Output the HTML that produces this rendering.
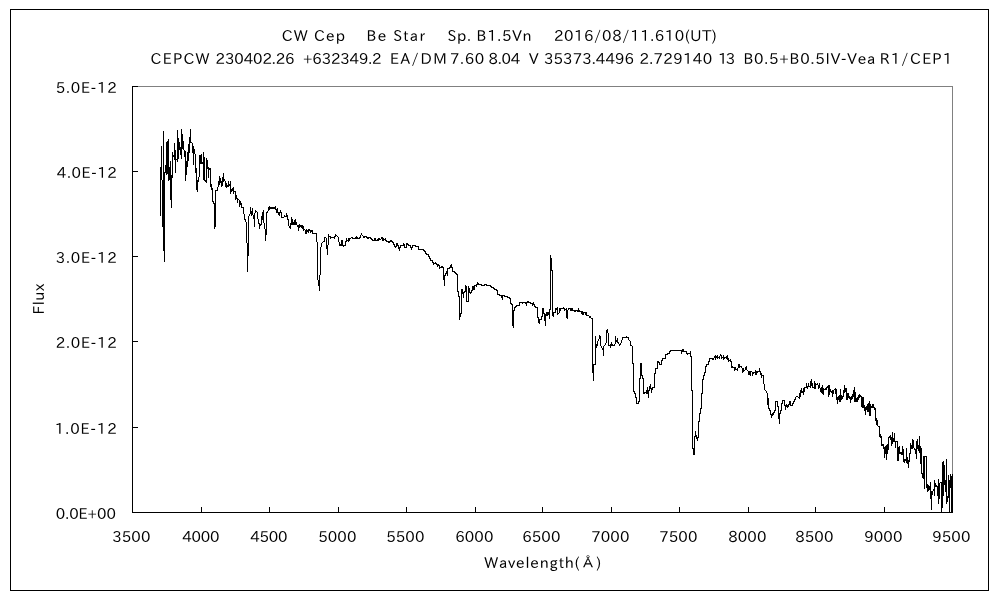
<!DOCTYPE html>
<html><head><meta charset="utf-8"><title>CW Cep spectrum</title>
<style>
html,body{margin:0;padding:0;background:#fff;}
body{width:1000px;height:600px;position:relative;overflow:hidden;}
.t{position:absolute;font-family:"IPAPGothic","IPAGothic","Liberation Sans",sans-serif;font-size:15px;line-height:16px;letter-spacing:0.62px;white-space:pre;color:#000;}
.yl{right:884px;text-align:right;}
.xl{top:529px;width:60px;text-align:center;}
svg{position:absolute;left:0;top:0;}
</style></head><body>
<svg width="1000" height="600" viewBox="0 0 1000 600">
<rect x="10.5" y="9.5" width="978" height="581" fill="none" stroke="#000" stroke-width="1" shape-rendering="crispEdges"/>
<path d="M132.5 86.5H952.5V512.5" fill="none" stroke="#808080" stroke-width="1" shape-rendering="crispEdges"/>
<path d="M132.5 86V512.5H952.5" fill="none" stroke="#000" stroke-width="1" shape-rendering="crispEdges"/>
<path d="M133 171.5H138M133 256.5H138M133 341.5H138M133 427.5H138M133 86.5H138M201.5 507V512M269.5 507V512M338.5 507V512M406.5 507V512M475.5 507V512M542.5 507V512M611.5 507V512M679.5 507V512M748.5 507V512M815.5 507V512M884.5 507V512" fill="none" stroke="#000" stroke-width="1" shape-rendering="crispEdges"/>
<path d="M160 167h1v49h-1zM161 146h1v34h-1zM162 180h1v47h-1zM163 131h1v120h-1zM164 172h1v90h-1zM165 165h1v8h-1zM166 142h1v33h-1zM167 141h1v33h-1zM168 139h1v42h-1zM169 167h1v13h-1zM170 161h1v39h-1zM171 175h1v33h-1zM172 152h1v26h-1zM173 155h1v2h-1zM174 143h1v17h-1zM175 150h1v23h-1zM176 159h1v1h-1zM177 130h1v32h-1zM178 138h1v21h-1zM179 142h1v8h-1zM180 147h1v8h-1zM181 129h1v30h-1zM182 134h1v15h-1zM183 141h1v9h-1zM184 150h1v7h-1zM185 151h1v30h-1zM186 161h1v14h-1zM187 152h1v15h-1zM188 144h1v17h-1zM189 137h1v16h-1zM190 129h1v14h-1zM191 142h1v1h-1zM192 143h1v10h-1zM193 146h1v19h-1zM194 149h1v5h-1zM195 154h1v19h-1zM196 168h1v22h-1zM197 180h1v12h-1zM198 177h1v5h-1zM199 155h1v22h-1zM200 155h1v9h-1zM201 154h1v10h-1zM202 162h1v2h-1zM203 152h1v28h-1zM204 157h1v24h-1zM205 180h1v2h-1zM206 158h1v25h-1zM207 160h1v9h-1zM208 167h1v11h-1zM209 168h1v2h-1zM210 168h1v19h-1zM211 184h1v6h-1zM212 188h1v14h-1zM213 201h1v3h-1zM214 203h1v26h-1zM215 190h1v37h-1zM216 190h1v1h-1zM217 187h1v4h-1zM218 181h1v6h-1zM219 176h1v9h-1zM220 178h1v5h-1zM221 181h1v6h-1zM222 177h1v9h-1zM223 173h1v9h-1zM224 179h1v2h-1zM225 181h1v6h-1zM226 183h1v5h-1zM227 185h1v2h-1zM228 181h1v6h-1zM229 184h1v2h-1zM230 181h1v13h-1zM231 189h1v3h-1zM232 188h1v3h-1zM233 187h1v7h-1zM234 191h1v1h-1zM235 191h1v9h-1zM236 195h1v4h-1zM237 198h1v5h-1zM238 199h1v1h-1zM239 200h1v7h-1zM240 201h1v4h-1zM241 203h1v5h-1zM242 207h1v1h-1zM243 207h1v7h-1zM244 214h1v6h-1zM245 219h1v3h-1zM246 222h1v21h-1zM247 243h1v29h-1zM248 216h1v40h-1zM249 214h1v2h-1zM250 207h1v7h-1zM251 211h1v5h-1zM252 208h1v7h-1zM253 215h1v4h-1zM254 213h1v14h-1zM255 210h1v3h-1zM256 211h1v1h-1zM257 212h1v7h-1zM258 219h1v5h-1zM259 223h1v6h-1zM260 224h1v2h-1zM261 216h1v9h-1zM262 212h1v8h-1zM263 210h1v13h-1zM264 223h1v6h-1zM265 229h1v12h-1zM266 212h1v23h-1zM267 211h1v2h-1zM268 207h1v4h-1zM269 206h1v4h-1zM270 207h1v2h-1zM271 207h1v2h-1zM272 207h1v2h-1zM273 207h1v2h-1zM274 207h1v2h-1zM275 206h1v4h-1zM276 209h1v4h-1zM277 208h1v5h-1zM278 212h1v3h-1zM279 212h1v4h-1zM280 210h1v3h-1zM281 212h1v6h-1zM282 217h1v1h-1zM283 217h1v1h-1zM284 215h1v2h-1zM285 216h1v1h-1zM286 213h1v4h-1zM287 215h1v5h-1zM288 219h1v7h-1zM289 226h1v2h-1zM290 223h1v6h-1zM291 217h1v8h-1zM292 219h1v6h-1zM293 222h1v3h-1zM294 220h1v5h-1zM295 219h1v6h-1zM296 222h1v3h-1zM297 225h1v2h-1zM298 225h1v6h-1zM299 224h1v4h-1zM300 225h1v2h-1zM301 225h1v3h-1zM302 225h1v4h-1zM303 226h1v5h-1zM304 229h1v1h-1zM305 230h1v4h-1zM306 229h1v5h-1zM307 230h1v2h-1zM308 229h1v4h-1zM309 229h1v2h-1zM310 230h1v3h-1zM311 230h1v2h-1zM312 230h1v4h-1zM313 233h1v1h-1zM314 233h1v1h-1zM315 233h1v1h-1zM316 233h1v9h-1zM317 242h1v38h-1zM318 280h1v6h-1zM319 275h1v16h-1zM320 247h1v28h-1zM321 243h1v4h-1zM322 242h1v1h-1zM323 241h1v1h-1zM324 237h1v5h-1zM325 237h1v1h-1zM326 238h1v11h-1zM327 245h1v10h-1zM328 234h1v11h-1zM329 236h1v1h-1zM330 236h1v3h-1zM331 237h1v1h-1zM332 237h1v1h-1zM333 237h1v1h-1zM334 236h1v3h-1zM335 234h1v3h-1zM336 235h1v1h-1zM337 236h1v1h-1zM338 237h1v5h-1zM339 242h1v4h-1zM340 244h1v2h-1zM341 240h1v6h-1zM342 240h1v6h-1zM343 245h1v2h-1zM344 245h1v1h-1zM345 241h1v5h-1zM346 238h1v4h-1zM347 240h1v1h-1zM348 238h1v4h-1zM349 238h1v3h-1zM350 238h1v1h-1zM351 237h1v1h-1zM352 237h1v2h-1zM353 238h1v1h-1zM354 238h1v1h-1zM355 237h1v2h-1zM356 236h1v3h-1zM357 237h1v2h-1zM358 238h1v1h-1zM359 237h1v2h-1zM360 235h1v3h-1zM361 233h1v2h-1zM362 235h1v1h-1zM363 236h1v2h-1zM364 236h1v2h-1zM365 236h1v1h-1zM366 236h1v2h-1zM367 237h1v2h-1zM368 237h1v2h-1zM369 237h1v1h-1zM370 237h1v2h-1zM371 238h1v2h-1zM372 239h1v2h-1zM373 240h1v1h-1zM374 238h1v3h-1zM375 238h1v3h-1zM376 240h1v1h-1zM377 239h1v2h-1zM378 238h1v3h-1zM379 238h1v2h-1zM380 239h1v1h-1zM381 237h1v2h-1zM382 237h1v4h-1zM383 238h1v3h-1zM384 239h1v1h-1zM385 238h1v3h-1zM386 240h1v2h-1zM387 241h1v1h-1zM388 241h1v2h-1zM389 241h1v2h-1zM390 240h1v2h-1zM391 240h1v2h-1zM392 241h1v2h-1zM393 242h1v3h-1zM394 244h1v3h-1zM395 246h1v2h-1zM396 243h1v4h-1zM397 243h1v3h-1zM398 245h1v4h-1zM399 247h1v4h-1zM400 245h1v3h-1zM401 245h1v1h-1zM402 245h1v1h-1zM403 243h1v3h-1zM404 244h1v4h-1zM405 247h1v1h-1zM406 243h1v5h-1zM407 243h1v2h-1zM408 244h1v2h-1zM409 245h1v1h-1zM410 245h1v3h-1zM411 247h1v3h-1zM412 245h1v3h-1zM413 245h1v1h-1zM414 245h1v1h-1zM415 245h1v2h-1zM416 246h1v1h-1zM417 246h1v1h-1zM418 246h1v4h-1zM419 249h1v1h-1zM420 249h1v1h-1zM421 249h1v1h-1zM422 249h1v1h-1zM423 249h1v2h-1zM424 250h1v2h-1zM425 251h1v3h-1zM426 253h1v2h-1zM427 254h1v1h-1zM428 254h1v3h-1zM429 256h1v3h-1zM430 258h1v3h-1zM431 260h1v1h-1zM432 260h1v3h-1zM433 262h1v3h-1zM434 263h1v1h-1zM435 262h1v2h-1zM436 263h1v2h-1zM437 264h1v3h-1zM438 264h1v2h-1zM439 265h1v4h-1zM440 267h1v1h-1zM441 266h1v2h-1zM442 266h1v2h-1zM443 267h1v13h-1zM444 275h1v11h-1zM445 273h1v3h-1zM446 271h1v3h-1zM447 268h1v8h-1zM448 268h1v1h-1zM449 267h1v2h-1zM450 265h1v3h-1zM451 264h1v4h-1zM452 267h1v5h-1zM453 271h1v1h-1zM454 271h1v2h-1zM455 272h1v2h-1zM456 273h1v2h-1zM457 274h1v18h-1zM458 291h1v6h-1zM459 296h1v24h-1zM460 313h1v4h-1zM461 289h1v25h-1zM462 289h1v5h-1zM463 292h1v6h-1zM464 291h1v2h-1zM465 285h1v7h-1zM466 286h1v16h-1zM467 301h1v1h-1zM468 286h1v16h-1zM469 288h1v5h-1zM470 292h1v2h-1zM471 290h1v3h-1zM472 286h1v5h-1zM473 286h1v4h-1zM474 285h1v5h-1zM475 285h1v1h-1zM476 284h1v3h-1zM477 282h1v3h-1zM478 283h1v2h-1zM479 284h1v1h-1zM480 284h1v1h-1zM481 284h1v2h-1zM482 285h1v1h-1zM483 285h1v1h-1zM484 284h1v2h-1zM485 284h1v1h-1zM486 284h1v2h-1zM487 285h1v1h-1zM488 285h1v1h-1zM489 285h1v1h-1zM490 285h1v2h-1zM491 286h1v2h-1zM492 287h1v1h-1zM493 287h1v2h-1zM494 288h1v2h-1zM495 289h1v1h-1zM496 289h1v2h-1zM497 290h1v5h-1zM498 294h1v1h-1zM499 294h1v2h-1zM500 295h1v1h-1zM501 295h1v3h-1zM502 295h1v5h-1zM503 295h1v1h-1zM504 295h1v2h-1zM505 296h1v1h-1zM506 296h1v1h-1zM507 296h1v2h-1zM508 297h1v1h-1zM509 297h1v2h-1zM510 298h1v6h-1zM511 303h1v2h-1zM512 304h1v22h-1zM513 310h1v18h-1zM514 307h1v4h-1zM515 306h1v2h-1zM516 305h1v2h-1zM517 305h1v1h-1zM518 305h1v1h-1zM519 302h1v4h-1zM520 302h1v1h-1zM521 302h1v1h-1zM522 302h1v2h-1zM523 302h1v1h-1zM524 302h1v1h-1zM525 302h1v2h-1zM526 302h1v4h-1zM527 301h1v2h-1zM528 301h1v2h-1zM529 302h1v1h-1zM530 302h1v2h-1zM531 303h1v1h-1zM532 303h1v3h-1zM533 302h1v3h-1zM534 304h1v3h-1zM535 306h1v2h-1zM536 307h1v1h-1zM537 307h1v11h-1zM538 317h1v6h-1zM539 319h1v5h-1zM540 319h1v1h-1zM541 316h1v4h-1zM542 308h1v9h-1zM543 308h1v6h-1zM544 313h1v8h-1zM545 314h1v12h-1zM546 312h1v4h-1zM547 312h1v4h-1zM548 312h1v3h-1zM549 309h1v10h-1zM550 255h1v55h-1zM551 258h1v13h-1zM552 270h1v46h-1zM553 312h1v5h-1zM554 312h1v1h-1zM555 308h1v5h-1zM556 308h1v2h-1zM557 307h1v8h-1zM558 313h1v1h-1zM559 308h1v5h-1zM560 308h1v3h-1zM561 308h1v1h-1zM562 308h1v1h-1zM563 307h1v2h-1zM564 308h1v3h-1zM565 309h1v1h-1zM566 308h1v10h-1zM567 310h1v9h-1zM568 308h1v2h-1zM569 308h1v1h-1zM570 308h1v3h-1zM571 308h1v3h-1zM572 308h1v3h-1zM573 310h1v1h-1zM574 310h1v2h-1zM575 310h1v2h-1zM576 310h1v1h-1zM577 310h1v2h-1zM578 308h1v4h-1zM579 310h1v2h-1zM580 311h1v1h-1zM581 311h1v3h-1zM582 311h1v4h-1zM583 312h1v3h-1zM584 312h1v1h-1zM585 312h1v3h-1zM586 312h1v4h-1zM587 315h1v1h-1zM588 315h1v1h-1zM589 316h1v2h-1zM590 316h1v2h-1zM591 318h1v1h-1zM592 318h1v55h-1zM593 364h1v17h-1zM594 364h1v1h-1zM595 336h1v29h-1zM596 344h1v4h-1zM597 341h1v5h-1zM598 339h1v2h-1zM599 335h1v4h-1zM600 336h1v10h-1zM601 346h1v2h-1zM602 348h1v2h-1zM603 346h1v10h-1zM604 345h1v1h-1zM605 343h1v2h-1zM606 330h1v13h-1zM607 329h1v4h-1zM608 333h1v13h-1zM609 345h1v1h-1zM610 344h1v4h-1zM611 342h1v4h-1zM612 344h1v2h-1zM613 345h1v1h-1zM614 344h1v2h-1zM615 336h1v8h-1zM616 340h1v2h-1zM617 338h1v5h-1zM618 342h1v2h-1zM619 344h1v2h-1zM620 343h1v2h-1zM621 340h1v3h-1zM622 337h1v3h-1zM623 337h1v1h-1zM624 337h1v1h-1zM625 337h1v1h-1zM626 336h1v2h-1zM627 337h1v1h-1zM628 337h1v3h-1zM629 340h1v1h-1zM630 341h1v5h-1zM631 345h1v1h-1zM632 346h1v18h-1zM633 363h1v29h-1zM634 391h1v3h-1zM635 393h1v5h-1zM636 397h1v7h-1zM637 403h1v1h-1zM638 401h1v3h-1zM639 378h1v24h-1zM640 363h1v16h-1zM641 363h1v13h-1zM642 375h1v4h-1zM643 378h1v16h-1zM644 392h1v2h-1zM645 392h1v1h-1zM646 390h1v4h-1zM647 387h1v7h-1zM648 390h1v8h-1zM649 386h1v5h-1zM650 384h1v5h-1zM651 388h1v5h-1zM652 387h1v3h-1zM653 387h1v1h-1zM654 373h1v15h-1zM655 368h1v6h-1zM656 368h1v1h-1zM657 361h1v8h-1zM658 361h1v2h-1zM659 362h1v3h-1zM660 364h1v1h-1zM661 360h1v5h-1zM662 358h1v3h-1zM663 358h1v1h-1zM664 358h1v1h-1zM665 354h1v5h-1zM666 354h1v1h-1zM667 353h1v2h-1zM668 353h1v1h-1zM669 351h1v3h-1zM670 350h1v2h-1zM671 350h1v1h-1zM672 350h1v1h-1zM673 350h1v1h-1zM674 350h1v1h-1zM675 350h1v1h-1zM676 350h1v1h-1zM677 350h1v1h-1zM678 350h1v1h-1zM679 350h1v1h-1zM680 350h1v1h-1zM681 350h1v4h-1zM682 349h1v3h-1zM683 349h1v3h-1zM684 351h1v1h-1zM685 351h1v1h-1zM686 351h1v3h-1zM687 353h1v2h-1zM688 353h1v1h-1zM689 353h1v1h-1zM690 351h1v6h-1zM691 356h1v35h-1zM692 390h1v59h-1zM693 448h1v7h-1zM694 436h1v19h-1zM695 431h1v6h-1zM696 435h1v4h-1zM697 437h1v4h-1zM698 421h1v17h-1zM699 413h1v9h-1zM700 408h1v6h-1zM701 393h1v16h-1zM702 379h1v15h-1zM703 375h1v5h-1zM704 372h1v4h-1zM705 366h1v7h-1zM706 364h1v3h-1zM707 364h1v1h-1zM708 361h1v4h-1zM709 358h1v4h-1zM710 358h1v1h-1zM711 358h1v1h-1zM712 358h1v2h-1zM713 358h1v2h-1zM714 356h1v2h-1zM715 355h1v5h-1zM716 356h1v2h-1zM717 355h1v4h-1zM718 357h1v1h-1zM719 356h1v3h-1zM720 354h1v2h-1zM721 355h1v4h-1zM722 357h1v1h-1zM723 355h1v5h-1zM724 357h1v2h-1zM725 357h1v1h-1zM726 356h1v3h-1zM727 355h1v5h-1zM728 358h1v4h-1zM729 360h1v1h-1zM730 359h1v3h-1zM731 361h1v7h-1zM732 366h1v2h-1zM733 367h1v1h-1zM734 367h1v4h-1zM735 367h1v3h-1zM736 369h1v1h-1zM737 368h1v3h-1zM738 364h1v4h-1zM739 364h1v4h-1zM740 366h1v1h-1zM741 366h1v2h-1zM742 368h1v5h-1zM743 368h1v4h-1zM744 370h1v1h-1zM745 367h1v3h-1zM746 366h1v4h-1zM747 370h1v1h-1zM748 371h1v4h-1zM749 371h1v4h-1zM750 371h1v5h-1zM751 371h1v1h-1zM752 372h1v4h-1zM753 372h1v2h-1zM754 372h1v1h-1zM755 370h1v5h-1zM756 371h1v4h-1zM757 371h1v2h-1zM758 371h1v1h-1zM759 368h1v4h-1zM760 371h1v4h-1zM761 373h1v5h-1zM762 375h1v1h-1zM763 375h1v9h-1zM764 384h1v6h-1zM765 390h1v1h-1zM766 391h1v2h-1zM767 393h1v12h-1zM768 398h1v11h-1zM769 408h1v3h-1zM770 410h1v5h-1zM771 414h1v4h-1zM772 413h1v3h-1zM773 412h1v3h-1zM774 410h1v3h-1zM775 401h1v10h-1zM776 401h1v1h-1zM777 401h1v6h-1zM778 406h1v13h-1zM779 413h1v11h-1zM780 410h1v4h-1zM781 403h1v8h-1zM782 400h1v4h-1zM783 400h1v1h-1zM784 400h1v6h-1zM785 405h1v5h-1zM786 404h1v3h-1zM787 405h1v3h-1zM788 404h1v3h-1zM789 401h1v4h-1zM790 401h1v5h-1zM791 405h1v1h-1zM792 403h1v3h-1zM793 401h1v3h-1zM794 399h1v3h-1zM795 397h1v3h-1zM796 396h1v1h-1zM797 396h1v1h-1zM798 397h1v1h-1zM799 393h1v6h-1zM800 390h1v7h-1zM801 388h1v5h-1zM802 391h1v2h-1zM803 388h1v7h-1zM804 387h1v5h-1zM805 387h1v1h-1zM806 383h1v5h-1zM807 386h1v3h-1zM808 383h1v4h-1zM809 386h1v1h-1zM810 381h1v7h-1zM811 379h1v7h-1zM812 383h1v5h-1zM813 387h1v1h-1zM814 381h1v8h-1zM815 383h1v6h-1zM816 384h1v1h-1zM817 383h1v2h-1zM818 385h1v4h-1zM819 383h1v5h-1zM820 388h1v4h-1zM821 387h1v6h-1zM822 385h1v9h-1zM823 388h1v7h-1zM824 389h1v1h-1zM825 388h1v2h-1zM826 387h1v3h-1zM827 386h1v2h-1zM828 385h1v12h-1zM829 385h1v10h-1zM830 389h1v3h-1zM831 391h1v2h-1zM832 390h1v7h-1zM833 390h1v4h-1zM834 389h1v1h-1zM835 388h1v6h-1zM836 389h1v11h-1zM837 397h1v7h-1zM838 396h1v4h-1zM839 395h1v7h-1zM840 389h1v13h-1zM841 395h1v5h-1zM842 396h1v3h-1zM843 390h1v7h-1zM844 385h1v8h-1zM845 388h1v4h-1zM846 388h1v12h-1zM847 393h1v7h-1zM848 393h1v5h-1zM849 396h1v3h-1zM850 397h1v6h-1zM851 396h1v4h-1zM852 394h1v5h-1zM853 390h1v7h-1zM854 387h1v15h-1zM855 392h1v10h-1zM856 398h1v4h-1zM857 397h1v5h-1zM858 395h1v5h-1zM859 394h1v4h-1zM860 395h1v2h-1zM861 396h1v11h-1zM862 397h1v11h-1zM863 397h1v11h-1zM864 405h1v6h-1zM865 407h1v8h-1zM866 406h1v4h-1zM867 404h1v8h-1zM868 403h1v9h-1zM869 401h1v15h-1zM870 404h1v12h-1zM871 406h1v2h-1zM872 404h1v4h-1zM873 404h1v4h-1zM874 407h1v3h-1zM875 408h1v13h-1zM876 418h1v7h-1zM877 420h1v6h-1zM878 426h1v1h-1zM879 426h1v11h-1zM880 434h1v4h-1zM881 436h1v10h-1zM882 444h1v2h-1zM883 444h1v5h-1zM884 447h1v11h-1zM885 446h1v8h-1zM886 445h1v15h-1zM887 444h1v10h-1zM888 437h1v13h-1zM889 436h1v2h-1zM890 435h1v5h-1zM891 437h1v9h-1zM892 432h1v12h-1zM893 438h1v4h-1zM894 433h1v9h-1zM895 441h1v7h-1zM896 441h1v1h-1zM897 441h1v20h-1zM898 447h1v14h-1zM899 446h1v8h-1zM900 452h1v2h-1zM901 452h1v3h-1zM902 446h1v9h-1zM903 449h1v13h-1zM904 459h1v4h-1zM905 459h1v2h-1zM906 448h1v15h-1zM907 457h1v7h-1zM908 460h1v8h-1zM909 453h1v9h-1zM910 443h1v11h-1zM911 445h1v4h-1zM912 439h1v10h-1zM913 440h1v8h-1zM914 448h1v2h-1zM915 449h1v5h-1zM916 441h1v18h-1zM917 439h1v10h-1zM918 445h1v6h-1zM919 436h1v17h-1zM920 446h1v18h-1zM921 448h1v26h-1zM922 473h1v5h-1zM923 456h1v23h-1zM924 456h1v33h-1zM925 456h1v1h-1zM926 456h1v32h-1zM927 484h1v8h-1zM928 485h1v6h-1zM929 486h1v4h-1zM930 482h1v17h-1zM931 491h1v19h-1zM932 491h1v4h-1zM933 489h1v2h-1zM934 480h1v16h-1zM935 483h1v4h-1zM936 485h1v2h-1zM937 486h1v10h-1zM938 479h1v25h-1zM939 483h1v16h-1zM940 482h1v1h-1zM941 482h1v30h-1zM942 462h1v46h-1zM943 461h1v35h-1zM944 465h1v20h-1zM945 480h1v12h-1zM946 459h1v45h-1zM947 496h1v6h-1zM948 475h1v23h-1zM949 480h1v32h-1zM950 474h1v14h-1zM951 476h1v36h-1zM952 474h1v38h-1z" fill="#000" shape-rendering="crispEdges"/>
</svg>
<div class="t" style="left:150.6px;top:51px;letter-spacing:1.25px">CEPCW</div>
<div class="t" style="left:215.6px;top:51px;letter-spacing:-0.075px">230402.26</div>
<div class="t" style="left:303.0px;top:51px;letter-spacing:-0.125px">+632349.2</div>
<div class="t" style="left:390.0px;top:51px;letter-spacing:1.5px">EA/DM</div>
<div class="t" style="left:450.0px;top:51px;letter-spacing:0.667px">7.60</div>
<div class="t" style="left:488.6px;top:51px;letter-spacing:-0.2px">8.04</div>
<div class="t" style="left:529.0px;top:51px;letter-spacing:0.0px">V</div>
<div class="t" style="left:544.0px;top:51px;letter-spacing:0.111px">35373.4496</div>
<div class="t" style="left:639.4px;top:51px;letter-spacing:0.371px">2.729140</div>
<div class="t" style="left:718.0px;top:51px;letter-spacing:-1.6px">13</div>
<div class="t" style="left:743.4px;top:51px;letter-spacing:0.807px">B0.5+B0.5IV-Vea</div>
<div class="t" style="left:879.8px;top:51px;letter-spacing:1.2px">R1/CEP1</div>
<div class="t" style="left:281.8px;top:28px;letter-spacing:1.12px">CW Cep</div>
<div class="t" style="left:366.6px;top:28px;letter-spacing:1.367px">Be Star</div>
<div class="t" style="left:447.6px;top:28px;letter-spacing:0.711px">Sp. B1.5Vn</div>
<div class="t" style="left:554.0px;top:28px;letter-spacing:0.565px">2016/08/11.610(UT)</div>
<div class="t" style="left:484.2px;top:555px;letter-spacing:0.817px">Wavelength(&#x212B;)</div>
<div class="t" style="left:55.8px;top:80px;letter-spacing:0.817px">5.0E-12</div>
<div class="t" style="left:56.8px;top:165px;letter-spacing:0.65px">4.0E-12</div>
<div class="t" style="left:55.8px;top:250px;letter-spacing:0.817px">3.0E-12</div>
<div class="t" style="left:55.8px;top:335px;letter-spacing:0.817px">2.0E-12</div>
<div class="t" style="left:54.8px;top:421px;letter-spacing:0.983px">1.0E-12</div>
<div class="t" style="left:55.8px;top:506px;letter-spacing:-0.017px">0.0E+00</div>
<div class="t" style="left:112.15px;top:529px;letter-spacing:0.167px">3500</div>
<div class="t" style="left:182.15px;top:529px;letter-spacing:-0.167px">4000</div>
<div class="t" style="left:250.15px;top:529px;letter-spacing:-0.167px">4500</div>
<div class="t" style="left:318.15px;top:529px;letter-spacing:0.167px">5000</div>
<div class="t" style="left:386.15px;top:529px;letter-spacing:0.167px">5500</div>
<div class="t" style="left:455.15px;top:529px;letter-spacing:0.167px">6000</div>
<div class="t" style="left:522.15px;top:529px;letter-spacing:0.167px">6500</div>
<div class="t" style="left:591.15px;top:529px;letter-spacing:0.167px">7000</div>
<div class="t" style="left:659.15px;top:529px;letter-spacing:0.167px">7500</div>
<div class="t" style="left:728.15px;top:529px;letter-spacing:0.167px">8000</div>
<div class="t" style="left:795.15px;top:529px;letter-spacing:0.167px">8500</div>
<div class="t" style="left:864.15px;top:529px;letter-spacing:0.167px">9000</div>
<div class="t" style="left:932.15px;top:529px;letter-spacing:0.167px">9500</div>
<div class="t" style="left:23px;top:291px;transform:rotate(-90deg);transform-origin:center center;width:31px;text-align:center">Flux</div>
</body></html>
